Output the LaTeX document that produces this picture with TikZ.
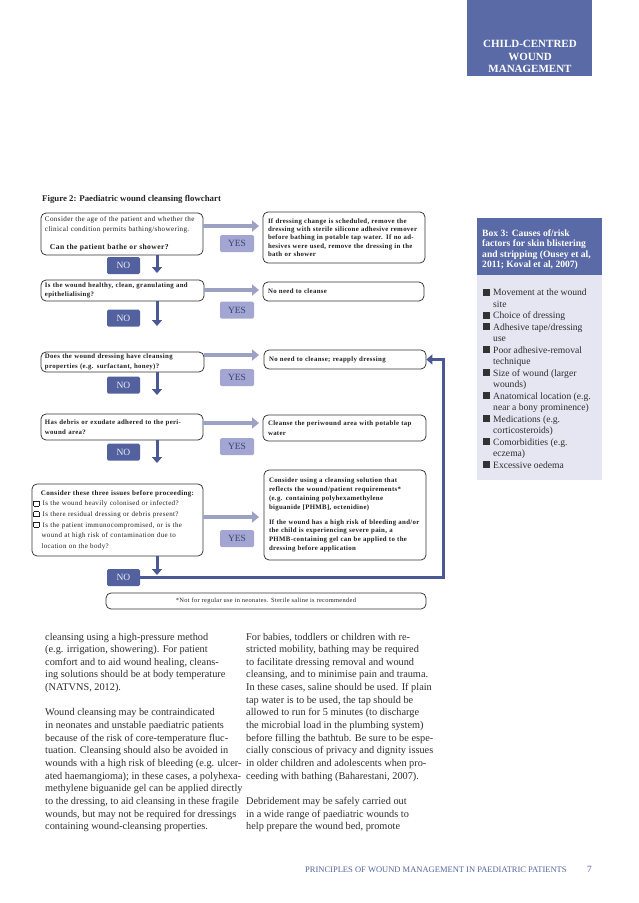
\documentclass[tikz,border=0pt]{standalone}
\usepackage{fontspec}
\setmainfont{Liberation Serif}
\newfontfamily\fcf[LetterSpace=5]{Liberation Serif}
\usetikzlibrary{arrows.meta}
\definecolor{hdrblue}{HTML}{5A6AA6}
\definecolor{noblue}{HTML}{53619E}
\definecolor{noline}{HTML}{4A5893}
\definecolor{yesfill}{HTML}{A3A6D2}
\definecolor{yestext}{HTML}{3B4270}
\definecolor{yesarrow}{HTML}{9DA1C4}
\definecolor{boxbody}{HTML}{E5E6F1}
\definecolor{bodytext}{HTML}{2E2E2E}
\definecolor{footblue}{HTML}{55649F}
\newcommand\chkbox{\raisebox{0pt}{\setlength{\fboxsep}{0pt}\setlength{\fboxrule}{0.5pt}\fbox{\rule{0pt}{4.6pt}\rule{4.6pt}{0pt}}}\hspace{3.5pt}}
\begin{document}
\begin{tikzpicture}[x=1pt,y=-1pt,
  fcbox/.style={draw=black!80, line width=0.75pt, rounded corners=5pt, inner sep=0pt, align=left, text=black!88},
  bfc/.style={font=\fcf\fontsize{6.8}{9.5}\selectfont\bfseries},
  nolab/.style={fill=noblue, rounded corners=1.5pt, minimum width=33pt, minimum height=17pt, inner sep=0pt, text=white!92!blue, font=\fontsize{9.5}{10}\selectfont},
  yeslab/.style={fill=yesfill, rounded corners=1.5pt, minimum width=34pt, minimum height=17pt, inner sep=0pt, text=yestext, font=\fontsize{9.5}{10}\selectfont},
  yesarr/.style={draw=yesarrow, line width=3.5pt, -{Triangle[length=7pt,width=11pt]}},
  noarr/.style={draw=noline, line width=3pt, -{Triangle[length=6pt,width=10pt]}},
  body/.style={anchor=base west, inner sep=0pt, text=bodytext, font=\fontsize{10.3}{12.6}\selectfont},
  side/.style={anchor=base west, inner sep=0pt, text=bodytext, font=\fontsize{9.6}{11.5}\selectfont},
  sidehd/.style={anchor=base west, inner sep=0pt, text=white, font=\fontsize{9.6}{10.5}\selectfont\bfseries}]
\useasboundingbox (0,0) rectangle (638,903);
\fill[white] (0,0) rectangle (638,903);

% top-right header
\fill[hdrblue] (467,0) rectangle (592,76);
\node[anchor=base, inner sep=0pt, text=white, font=\fontsize{11}{13}\selectfont\bfseries] (h1) at (530,47) {CHILD-CENTRED};
\node[anchor=base, inner sep=0pt, text=white, font=\fontsize{11}{13}\selectfont\bfseries] (h2) at (530,60) {WOUND};
\node[anchor=base, inner sep=0pt, text=white, font=\fontsize{11}{13}\selectfont\bfseries] (h3) at (530,72.5) {MANAGEMENT};

% figure title
\node[anchor=base west, inner sep=0pt, text=black!85, font=\fontsize{8.8}{10}\selectfont\bfseries] (title) at (42,201) {Figure 2: Paediatric wound cleansing flowchart};

% left boxes
\node[fcbox, minimum width=162pt, minimum height=42pt, text width=154pt, font=\fcf\fontsize{7.1}{10}\selectfont] (lb1) at (122,234)
 {Consider the age of the patient and whether the\\clinical condition permits bathing/showering.\\[8pt]\hspace*{5pt}\fontsize{7.6}{10}\selectfont\bfseries Can the patient bathe or shower?};
\node[fcbox, bfc, minimum width=163pt, minimum height=21pt, text width=155pt] (lb2) at (122.5,290.5)
 {Is the wound healthy, clean, granulating and\\epithelialising?};
\node[fcbox, bfc, minimum width=163pt, minimum height=20pt, text width=155pt] (lb3) at (122.5,362)
 {Does the wound dressing have cleansing\\properties (e.g. surfactant, honey)?};
\node[fcbox, bfc, minimum width=162pt, minimum height=26pt, text width=154pt] (lb4) at (122,427)
 {Has debris or exudate adhered to the peri-\\wound area?};
\node[fcbox, minimum width=171pt, minimum height=72pt, text width=168pt, font=\fcf\fontsize{7.0}{10.6}\selectfont] (lb5) at (117.5,520)
 {\makebox[168pt][c]{\bfseries Consider these three issues before proceeding:}\\
  \chkbox Is the wound heavily colonised or infected?\\
  \chkbox Is there residual dressing or debris present?\\
  \chkbox Is the patient immunocompromised, or is the\\
  \hspace*{8.1pt}wound at high risk of contamination due to\\
  \hspace*{8.1pt}location on the body?};

% right boxes
\node[fcbox, minimum width=162pt, minimum height=51pt, text width=152pt, font=\fcf\fontsize{6.8}{8.4}\selectfont\bfseries] (rb1) at (344,237.5)
 {If dressing change is scheduled, remove the\\dressing with sterile silicone adhesive remover\\before bathing in potable tap water. If no ad-\\hesives were used, remove the dressing in the\\bath or shower};
\node[fcbox, bfc, minimum width=161pt, minimum height=19pt, text width=151pt] (rb2) at (343.5,291.5) {No need to cleanse};
\node[fcbox, bfc, minimum width=162pt, minimum height=19pt, text width=152pt] (rb3) at (345,359.5) {No need to cleanse; reapply dressing};
\node[fcbox, bfc, minimum width=163pt, minimum height=26pt, text width=153pt] (rb4) at (344.5,428)
 {Cleanse the periwound area with potable tap\\water};
\node[fcbox, minimum width=162pt, minimum height=90pt, text width=152pt, font=\fcf\fontsize{6.8}{8.9}\selectfont\bfseries] (rb5) at (345,515)
 {Consider using a cleansing solution that\\reflects the wound/patient requirements*\\(e.g. containing polyhexamethylene\\biguanide [PHMB], octenidine)\\[6pt]If the wound has a high risk of bleeding and/or\\the child is experiencing severe pain, a\\PHMB-containing gel can be applied to the\\dressing before application};

% footnote box
\node[fcbox, minimum width=320pt, minimum height=16pt, align=center, font=\fcf\fontsize{6.4}{8}\selectfont] (foot) at (266,601)
 {*Not for regular use in neonates. Sterile saline is recommended};

% YES arrows and labels
\coordinate (ya1) at (259,226);
\coordinate (ya2) at (259,290);
\coordinate (ya3) at (259,355);
\coordinate (ya4) at (259,423);
\coordinate (ya5) at (259,517);
\draw[yesarr] (lb1.east |- ya1) -- (ya1);
\draw[yesarr] (lb2.east |- ya2) -- (ya2);
\draw[yesarr] (lb3.east |- ya3) -- (ya3);
\draw[yesarr] (lb4.east |- ya4) -- (ya4);
\draw[yesarr] (lb5.east |- ya5) -- (ya5);
\node[yeslab] (yes1) at (237,243.5) {YES};
\node[yeslab] (yes2) at (237,310) {YES};
\node[yeslab] (yes3) at (237,377.5) {YES};
\node[yeslab] (yes4) at (237,446.5) {YES};
\node[yeslab] (yes5) at (237,538.5) {YES};

% NO arrows and labels
\coordinate (na1) at (157,273);
\coordinate (na2) at (157,326);
\coordinate (na3) at (157,395);
\coordinate (na4) at (157,463);
\coordinate (na5) at (157,575);
\draw[noarr] (lb1.south -| na1) -- (na1);
\draw[noarr] (lb2.south -| na2) -- (na2);
\draw[noarr] (lb3.south -| na3) -- (na3);
\draw[noarr] (lb4.south -| na4) -- (na4);
\draw[noarr] (lb5.south -| na5) -- (na5);
\node[nolab] (no1) at (123.5,265.5) {NO};
\node[nolab] (no2) at (123.5,318) {NO};
\node[nolab] (no3) at (123.5,385) {NO};
\node[nolab] (no4) at (123.5,452) {NO};
\node[nolab] (no5) at (123.5,577.5) {NO};

% feedback line
\coordinate (fb) at (443,359.5);
\draw[noarr] (no5.east) -- (no5.east -| fb) -- (fb) -- (rb3.east);

% Box 3 sidebar
\fill[hdrblue] (477,218) rectangle (602,275);
\fill[boxbody] (477,275) rectangle (602,480);
\foreach \t [count=\i from 0] in {{Box 3: Causes of/risk},{factors for skin blistering},{and stripping (Ousey et al,},{2011; Koval et al, 2007)}}
  \node[sidehd] (bh\i) at (482,236+10.5*\i) {\t};
\foreach \t [count=\i from 0] in {{Movement at the wound},{site},{Choice of dressing},{Adhesive tape/dressing},{use},{Poor adhesive-removal},{technique},{Size of wound (larger},{wounds)},{Anatomical location (e.g.},{near a bony prominence)},{Medications (e.g.},{corticosteroids)},{Comorbidities (e.g.},{eczema)},{Excessive oedema}}
  \node[side] (bi\i) at (493,295.5+11.53*\i) {\t};
\foreach \i in {0,2,3,5,7,9,11,13,15}
  \fill[black!80] (483,295.5+11.53*\i-7) rectangle (490,295.5+11.53*\i);

% body text, left column
\foreach \t [count=\i from 0] in {{cleansing using a high-pressure method},{(e.g. irrigation, showering). For patient},{comfort and to aid wound healing, cleans-},{ing solutions should be at body temperature},{(NATVNS, 2012).}}
  \node[body] (la\i) at (45,640+12.65*\i) {\t};
\foreach \t [count=\i from 6] in {{Wound cleansing may be contraindicated},{in neonates and unstable paediatric patients},{because of the risk of core-temperature fluc-},{tuation. Cleansing should also be avoided in},{wounds with a high risk of bleeding (e.g. ulcer-},{ated haemangioma); in these cases, a polyhexa-},{methylene biguanide gel can be applied directly},{to the dressing, to aid cleansing in these fragile},{wounds, but may not be required for dressings},{containing wound-cleansing properties.}}
  \node[body] (lc\i) at (45,640+12.65*\i) {\t};

% body text, right column
\foreach \t [count=\i from 0] in {{For babies, toddlers or children with re-},{stricted mobility, bathing may be required},{to facilitate dressing removal and wound},{cleansing, and to minimise pain and trauma.},{In these cases, saline should be used. If plain},{tap water is to be used, the tap should be},{allowed to run for 5 minutes (to discharge},{the microbial load in the plumbing system)},{before filling the bathtub. Be sure to be espe-},{cially conscious of privacy and dignity issues},{in older children and adolescents when pro-},{ceeding with bathing (Baharestani, 2007).}}
  \node[body] (ra\i) at (246,640+12.65*\i) {\t};
\foreach \t [count=\i from 13] in {{Debridement may be safely carried out},{in a wide range of paediatric wounds to},{help prepare the wound bed, promote}}
  \node[body] (rc\i) at (246,640+12.65*\i) {\t};

% footer
\node[anchor=base west, inner sep=0pt, text=footblue, font=\fontsize{8.5}{10}\selectfont] (foottext) at (305,872) {PRINCIPLES OF WOUND MANAGEMENT IN PAEDIATRIC PATIENTS};
\node[anchor=base west, inner sep=0pt, text=footblue, font=\fontsize{9.5}{10}\selectfont] (pagenum) at (587,872) {7};
\end{tikzpicture}
\end{document}
